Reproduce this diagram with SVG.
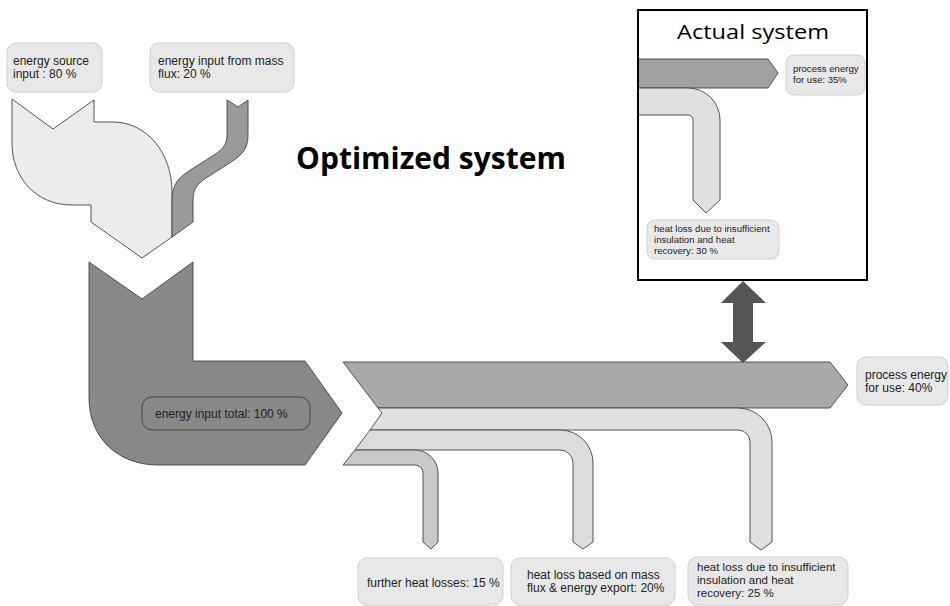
<svg xmlns="http://www.w3.org/2000/svg" width="950" height="606" viewBox="0 0 950 606">
<style>
.lbl{fill:#e8e8e8;stroke:#cfcfcf;stroke-width:1}
.t{font-family:"Liberation Sans",Arial,sans-serif;font-size:12px;fill:#222}
.tm{font-family:"Liberation Sans",Arial,sans-serif;font-size:11.5px;fill:#222}
.ts{font-family:"Liberation Sans",Arial,sans-serif;font-size:9.6px;fill:#222}
.flow{stroke:#444;stroke-width:0.9;stroke-linejoin:miter}
</style>
<rect width="950" height="606" fill="#fff"/>

<g id="input-source">
  <rect class="lbl" x="7" y="43" width="95" height="49" rx="9"/>
  <text class="t" x="13" y="65">energy source</text>
  <text class="t" x="13" y="78">input : 80 %</text>
  <path class="flow" fill="#ececec" d="M12,99 L53,129 L94,100 L94,122 L113,122 C146,122 172,152 172,192 L172,237 L142,258 L91,222 L91,205 L72,205 C36,205 12,178 12,143 Z"/>
</g>

<g id="input-mass">
  <rect class="lbl" x="150" y="43" width="144" height="49" rx="9"/>
  <text class="t" x="158" y="65">energy input from mass</text>
  <text class="t" x="158" y="78">flux: 20 %</text>
  <path class="flow" fill="#9a9a9a" d="M227,100 L238,107 L248,100 L248,135 C248,150 241,156 228,164 L206,178 C196,185 193,190 193,200 L193,222 L172,237 L172,200 C172,184 179,177 192,169 L214,155 C224,149 227,143 227,135 Z"/>
</g>

<g id="title-optimized">
  <text x="296" y="169" font-family="'Open Sans','Liberation Sans',sans-serif" font-weight="700" font-size="30" textLength="270" lengthAdjust="spacingAndGlyphs" fill="#000">Optimized system</text>
</g>

<g id="input-total">
  <path class="flow" fill="#888" d="M89,262 L142,299 L193,262 L193,361 L305,361 L342,413 L305,465 L158,465 C118,465 89,438 89,398 Z"/>
  <rect x="142" y="397" width="168" height="33" rx="10" fill="#888" stroke="#444" stroke-width="1"/>
  <text class="t" x="155" y="418">energy input total: 100 %</text>
</g>

<g id="flows">
  <path id="flow-process" class="flow" fill="#a9a9a9" d="M343,362 L830,362 L848,385 L830,408 L378,408 Z"/>
  <path id="flow-loss25" class="flow" fill="#e0e0e0" d="M378,408 L738,408 A34,34 0 0 1 772,442 L772,542 L761,550 L750,542 L750,442 A12,12 0 0 0 738,430 L370,430 L382,413 Z"/>
  <path id="flow-loss20" class="flow" fill="#dcdcdc" d="M370,430 L560,430 A33,33 0 0 1 593,463 L593,542 L583,549 L573,542 L573,463 A13,13 0 0 0 560,450 L355,450 Z"/>
  <path id="flow-loss15" class="flow" fill="#c8c8c8" d="M355,450 L415,450 A23,23 0 0 1 438,473 L438,542 L431,549 L423,542 L423,473 A8,8 0 0 0 415,465 L343,465 Z"/>
</g>

<g id="out-process40">
  <rect class="lbl" x="857" y="357" width="91" height="48" rx="9"/>
  <text class="t" x="865" y="379">process energy</text>
  <text class="t" x="865" y="392">for use: 40%</text>
</g>

<g id="out-loss15">
  <rect class="lbl" x="358" y="558" width="145" height="47" rx="9"/>
  <text class="t" x="367" y="587">further heat losses: 15 %</text>
</g>

<g id="out-loss20">
  <rect class="lbl" x="511" y="558" width="164" height="47" rx="9"/>
  <text class="t" x="527" y="579">heat loss based on mass</text>
  <text class="t" x="527" y="592">flux &amp; energy export: 20%</text>
</g>

<g id="out-loss25">
  <rect class="lbl" x="688" y="557" width="160" height="48" rx="9"/>
  <text class="tm" x="697" y="571">heat loss due to insufficient</text>
  <text class="tm" x="697" y="584">insulation and heat</text>
  <text class="tm" x="697" y="597">recovery: 25 %</text>
</g>

<g id="actual-system">
  <rect x="638" y="10" width="229" height="270" fill="#fff" stroke="#000" stroke-width="2"/>
  <text x="753" y="39" text-anchor="middle" font-family="'Open Sans','Liberation Sans',sans-serif" font-size="20" textLength="152" lengthAdjust="spacingAndGlyphs" fill="#000">Actual system</text>
  <path class="flow" fill="#a0a0a0" d="M639,59 L768,59 L778,73 L768,88 L639,88"/>
  <path class="flow" fill="#e0e0e0" d="M639,88 L688,88 A32,32 0 0 1 720,120 L720,200 L706,213 L693,200 L693,120 A5,5 0 0 0 688,115 L639,115"/>
  <rect class="lbl" x="786" y="55" width="79" height="40" rx="8"/>
  <text class="ts" x="793" y="72">process energy</text>
  <text class="ts" x="793" y="83">for use: 35%</text>
  <rect class="lbl" x="647" y="220" width="132" height="39" rx="8"/>
  <text class="ts" x="654" y="232">heat loss due to insufficient</text>
  <text class="ts" x="654" y="243">insulation and heat</text>
  <text class="ts" x="654" y="254">recovery: 30 %</text>
</g>

<g id="connectors">
  <path fill="#555" d="M743,281 L766,303 L753,303 L753,342 L766,342 L743,363 L721,342 L733,342 L733,303 L721,303 Z"/>
</g>
</svg>
